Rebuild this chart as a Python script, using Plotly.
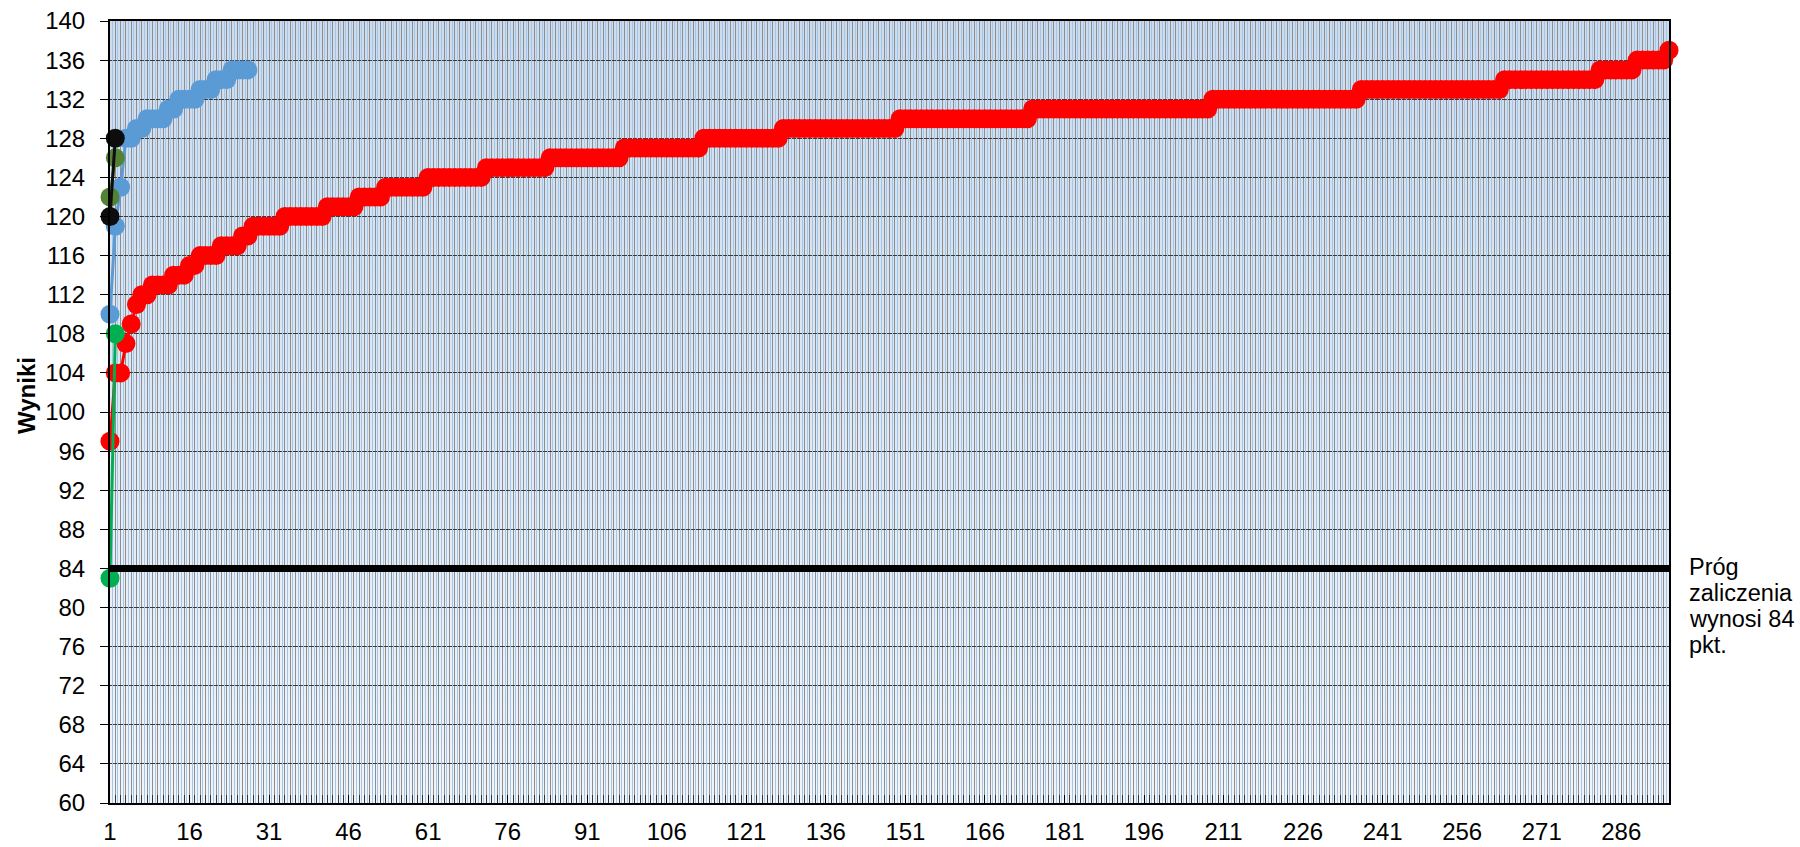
import base64
import plotly.graph_objects as go

# ---------------- data ----------------
n_categories = 295
categories = list(range(1, n_categories + 1))

red_scores = [
    97,
    104, 104,
    107,
    109,
    111,
    112, 112,
    113, 113, 113, 113,
    114, 114, 114,
    115, 115,
    116, 116, 116, 116,
    117, 117, 117, 117,
    118, 118,
    119, 119, 119, 119, 119, 119,
    120, 120, 120, 120, 120, 120, 120, 120,
    121, 121, 121, 121, 121, 121,
    122, 122, 122, 122, 122,
    123, 123, 123, 123, 123, 123, 123, 123,
    124, 124, 124, 124, 124, 124, 124, 124, 124, 124, 124,
    125, 125, 125, 125, 125, 125, 125, 125, 125, 125, 125, 125,
    126, 126, 126, 126, 126, 126, 126, 126, 126, 126, 126, 126, 126, 126,
    127, 127, 127, 127, 127, 127, 127, 127, 127, 127, 127, 127, 127, 127, 127,
    128, 128, 128, 128, 128, 128, 128, 128, 128, 128, 128, 128, 128, 128, 128,
    129, 129, 129, 129, 129, 129, 129, 129, 129, 129, 129,
    129, 129, 129, 129, 129, 129, 129, 129, 129, 129, 129,
    130, 130, 130, 130, 130, 130, 130, 130, 130, 130, 130, 130, 130,
    130, 130, 130, 130, 130, 130, 130, 130, 130, 130, 130, 130,
    131, 131, 131, 131, 131, 131, 131, 131, 131, 131, 131, 131, 131, 131, 131, 131, 131,
    131, 131, 131, 131, 131, 131, 131, 131, 131, 131, 131, 131, 131, 131, 131, 131, 131,
    132, 132, 132, 132, 132, 132, 132, 132, 132, 132, 132, 132, 132, 132,
    132, 132, 132, 132, 132, 132, 132, 132, 132, 132, 132, 132, 132, 132,
    133, 133, 133, 133, 133, 133, 133, 133, 133, 133, 133, 133, 133, 133,
    133, 133, 133, 133, 133, 133, 133, 133, 133, 133, 133, 133, 133,
    134, 134, 134, 134, 134, 134, 134, 134, 134, 134, 134, 134, 134, 134, 134, 134, 134, 134,
    135, 135, 135, 135, 135, 135, 135,
    136, 136, 136, 136, 136, 136,
    137,
]
blue_scores = [110, 119, 123, 128, 128, 129, 129, 130, 130, 130, 130, 131, 131,
               132, 132, 132, 132, 133, 133, 133, 134, 134, 134, 135, 135, 135, 135]
green_scores = [83, 108]
olive_scores = [122, 126]
black_scores = [120, 128]
threshold = 84

x_tick_labels = [1, 16, 31, 46, 61, 76, 91, 106, 121, 136, 151, 166, 181, 196,
                 211, 226, 241, 256, 271, 286]
y_tick_labels = [60, 64, 68, 72, 76, 80, 84, 88, 92, 96, 100, 104, 108, 112,
                 116, 120, 124, 128, 132, 136, 140]
threshold_note = ["Próg", "zaliczenia", "wynosi 84", "pkt."]
y_title = "Wyniki"

# ---------------- styling ----------------
FONT = "Liberation Sans, Arial, sans-serif"
FS = 24
MS = 19
LW = 3
W, H = 1800, 847
ML, MR, MT, MB = 110, 131, 21, 44
PW, PH = W - ML - MR, H - MT - MB

fig = go.Figure()

series = [
    (red_scores, "#FF0000"),
    (blue_scores, "#5B9BD5"),
    (green_scores, "#00B050"),
    (olive_scores, "#548235"),
    (black_scores, "#0D0D0D"),
]
for values, color in series:
    fig.add_trace(go.Scatter(
        x=categories[:len(values)], y=values, mode="lines+markers",
        line=dict(color=color, width=LW),
        marker=dict(size=MS, color=color, line=dict(width=0)),
        cliponaxis=False, hoverinfo="x+y",
    ))

fig.add_trace(go.Scatter(
    x=categories, y=[threshold] * len(categories), mode="lines",
    line=dict(color="#000000", width=7), xaxis="x2", yaxis="y",
    cliponaxis=False, hoverinfo="skip",
))

svg = ("<svg xmlns='http://www.w3.org/2000/svg' width='10' height='100' "
       "preserveAspectRatio='none'><defs><linearGradient id='g' x1='0' y1='0' "
       "x2='0' y2='1'><stop offset='0' stop-color='#CCDCEE'/>"
       "<stop offset='1' stop-color='#F1F5FA'/></linearGradient></defs>"
       "<rect width='10' height='100' fill='url(#g)'/></svg>")
bg_src = "data:image/svg+xml;base64," + base64.b64encode(svg.encode()).decode()

fig.update_layout(
    width=W, height=H,
    margin=dict(l=ML, r=MR, t=MT, b=MB, autoexpand=False),
    paper_bgcolor="white",
    plot_bgcolor="rgba(0,0,0,0)",
    showlegend=False,
    font=dict(family=FONT, size=FS, color="black"),
    images=[dict(source=bg_src, xref="paper", yref="paper", x=0, y=1,
                 sizex=1, sizey=1, xanchor="left", yanchor="top",
                 sizing="stretch", layer="below")],
    xaxis=dict(
        range=[1, n_categories], tickmode="array", tickvals=x_tick_labels,
        ticktext=[str(v) for v in x_tick_labels], automargin=False,
        ticks="inside", ticklen=8, tickcolor="#000000", tickwidth=1,
        showgrid=True, gridcolor="#8E8E8E", gridwidth=1,
        minor=dict(tick0=1, dtick=1, ticks="inside", ticklen=8,
                   tickcolor="#333333", showgrid=True, gridcolor="#8E8E8E",
                   gridwidth=1),
        showline=True, linecolor="#000000", linewidth=2, mirror=True,
        zeroline=False, ticklabelstandoff=6,
        tickfont=dict(family=FONT, size=FS, color="black"),
    ),
    xaxis2=dict(
        overlaying="x", anchor="y", side="bottom", automargin=False,
        range=[1, n_categories], tickmode="linear", tick0=1.5, dtick=1,
        showgrid=True, gridcolor="#A3C5E7", gridwidth=1,
        showticklabels=False, ticks="", showline=False, zeroline=False,
    ),
    yaxis=dict(
        range=[60, 140], tickmode="array", tickvals=y_tick_labels,
        automargin=False,
        ticks="outside", ticklen=8, tickcolor="#000000", tickwidth=1,
        showgrid=True, gridcolor="#3A3A3A", gridwidth=1,
        showline=True, linecolor="#000000", linewidth=2, mirror=True,
        zeroline=False, ticklabelstandoff=10,
        tickfont=dict(family=FONT, size=FS, color="black"),
    ),
)

fig.add_annotation(
    text="<b>" + y_title + "</b>", textangle=-90,
    xref="paper", yref="paper", x=(26 - ML) / PW, y=1 - (396 - MT) / PH,
    xanchor="center", yanchor="middle", showarrow=False,
    font=dict(family=FONT, size=FS, color="black"),
)
for i, line in enumerate(threshold_note):
    fig.add_annotation(
        text=line, xref="paper", yref="paper",
        x=(1687 - ML) / PW, y=1 - (567 + 26 * i - MT) / PH,
        xanchor="left", yanchor="middle", showarrow=False,
        font=dict(family=FONT, size=23.5, color="black"),
    )

fig.write_html(
    "out.html",
    config={"displayModeBar": False},
    post_script="document.body.style.margin='0';document.body.style.overflow='hidden';",
)
